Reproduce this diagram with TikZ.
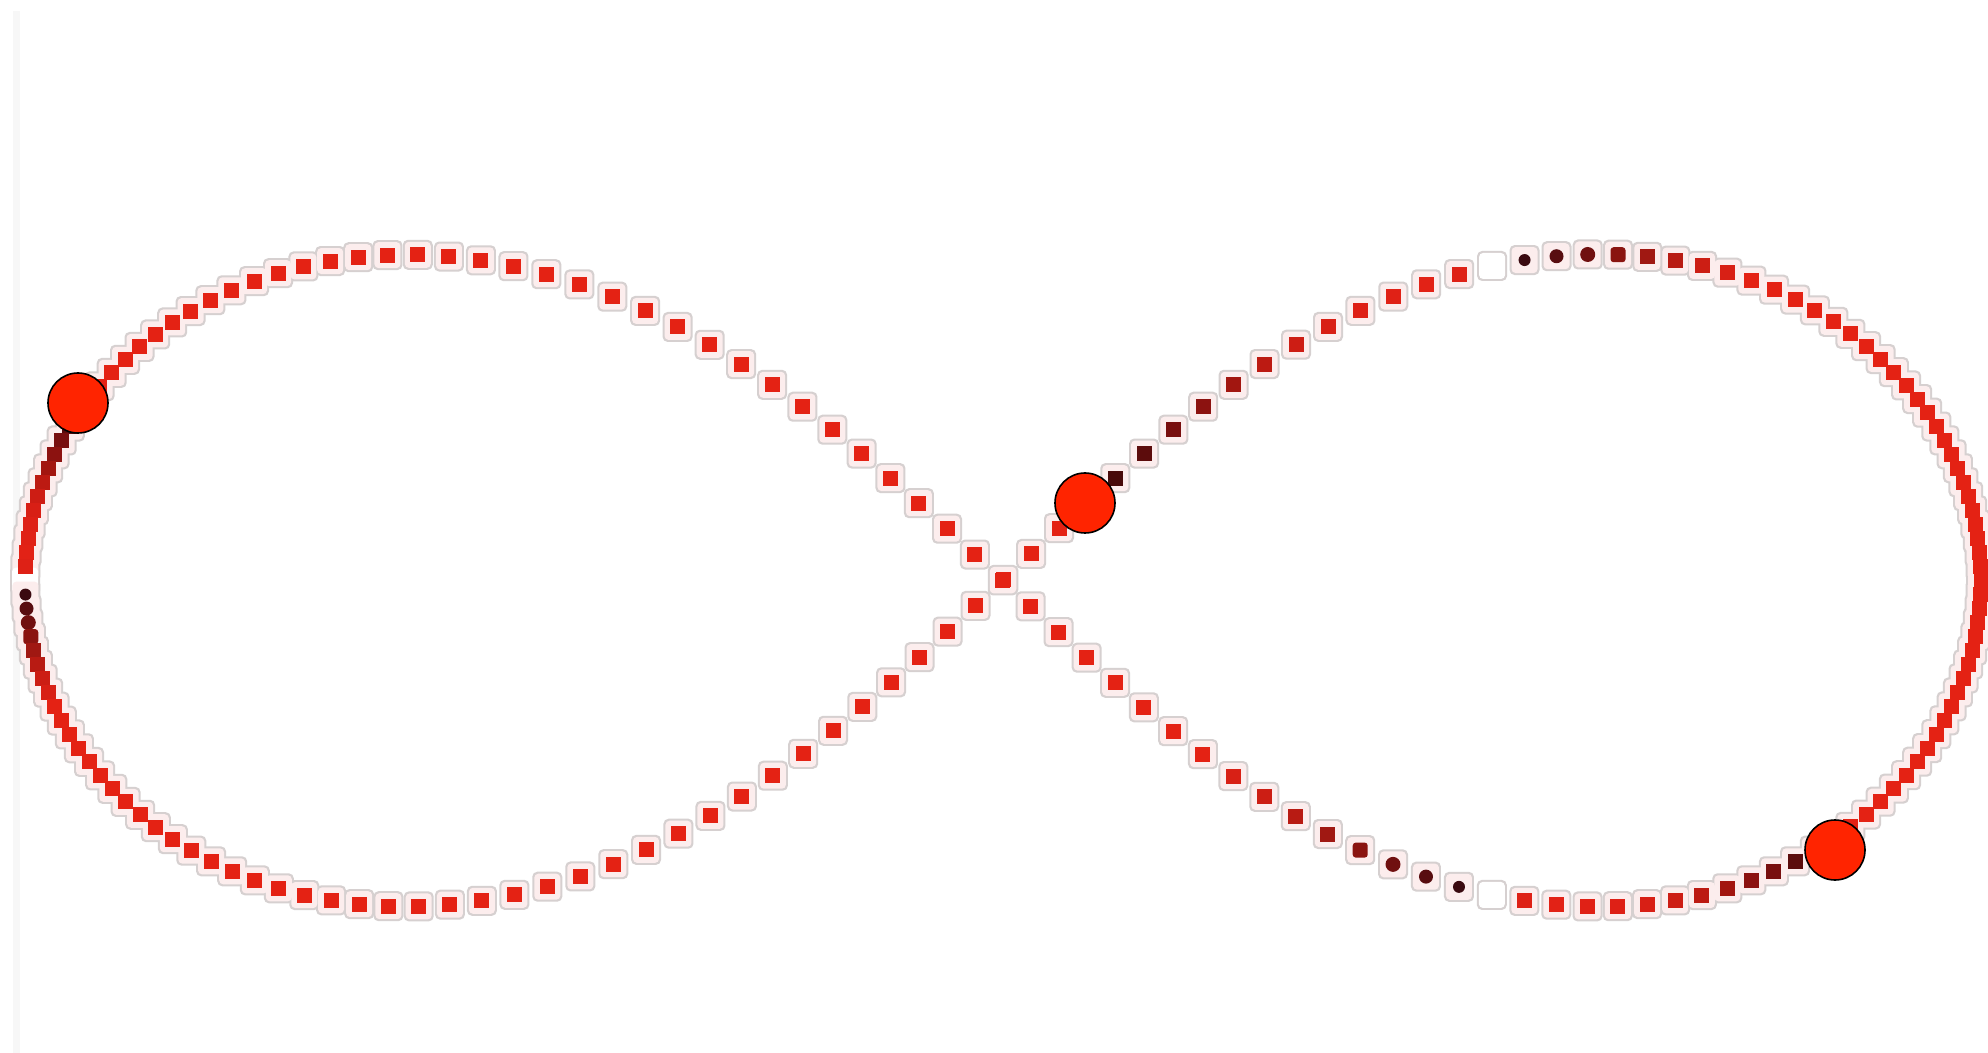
\documentclass[tikz,border=0pt]{standalone}
\usetikzlibrary{calc}
\newcount\festep
\newcount\fedot
\newcount\fek
% figure-eight three-body orbit, positions and velocities scaled by 10
\def\fexa{9.7000436}\def\feya{-2.4308753}
\def\fexb{-9.7000436}\def\feyb{2.4308753}
\def\fexc{0}\def\feyc{0}
\def\feua{4.6620369}\def\feva{4.3236573}
\def\feub{4.6620369}\def\fevb{4.3236573}
\def\feuc{-9.3240737}\def\fevc{-8.6473146}
\def\feh{-0.0109825}
\def\fehh{-0.00549124}
\def\fexmax{0}\def\feymax{0}
\def\feaccel{%
  \pgfmathsetmacro\fedxab{(\fexb)-(\fexa)}%
  \pgfmathsetmacro\fedyab{(\feyb)-(\feya)}%
  \pgfmathsetmacro\fedxac{(\fexc)-(\fexa)}%
  \pgfmathsetmacro\fedyac{(\feyc)-(\feya)}%
  \pgfmathsetmacro\fedxbc{(\fexc)-(\fexb)}%
  \pgfmathsetmacro\fedybc{(\feyc)-(\feyb)}%
  \pgfmathsetmacro\feq{10/sqrt((\fedxab)*(\fedxab)+(\fedyab)*(\fedyab))}%
  \pgfmathsetmacro\fefab{(\feq)*(\feq)*(\feq)}%
  \pgfmathsetmacro\feq{10/sqrt((\fedxac)*(\fedxac)+(\fedyac)*(\fedyac))}%
  \pgfmathsetmacro\fefac{(\feq)*(\feq)*(\feq)}%
  \pgfmathsetmacro\feq{10/sqrt((\fedxbc)*(\fedxbc)+(\fedybc)*(\fedybc))}%
  \pgfmathsetmacro\fefbc{(\feq)*(\feq)*(\feq)}%
  \pgfmathsetmacro\feaxa{(\fedxab)*(\fefab)+(\fedxac)*(\fefac)}%
  \pgfmathsetmacro\feaya{(\fedyab)*(\fefab)+(\fedyac)*(\fefac)}%
  \pgfmathsetmacro\feaxb{(\fedxbc)*(\fefbc)-(\fedxab)*(\fefab)}%
  \pgfmathsetmacro\feayb{(\fedybc)*(\fefbc)-(\fedyab)*(\fefab)}%
  \pgfmathsetmacro\feaxc{0-(\fedxac)*(\fefac)-(\fedxbc)*(\fefbc)}%
  \pgfmathsetmacro\feayc{0-(\fedyac)*(\fefac)-(\fedybc)*(\fefbc)}%
}
\def\fekick{%
  \pgfmathsetmacro\feua{(\feua)+(\feaxa)*(\fehh)}%
  \pgfmathsetmacro\feva{(\feva)+(\feaya)*(\fehh)}%
  \pgfmathsetmacro\feub{(\feub)+(\feaxb)*(\fehh)}%
  \pgfmathsetmacro\fevb{(\fevb)+(\feayb)*(\fehh)}%
  \pgfmathsetmacro\feuc{(\feuc)+(\feaxc)*(\fehh)}%
  \pgfmathsetmacro\fevc{(\fevc)+(\feayc)*(\fehh)}%
}
\def\fedrift{%
  \pgfmathsetmacro\fexa{(\fexa)+(\feua)*(\feh)}%
  \pgfmathsetmacro\feya{(\feya)+(\feva)*(\feh)}%
  \pgfmathsetmacro\fexb{(\fexb)+(\feub)*(\feh)}%
  \pgfmathsetmacro\feyb{(\feyb)+(\fevb)*(\feh)}%
  \pgfmathsetmacro\fexc{(\fexc)+(\feuc)*(\feh)}%
  \pgfmathsetmacro\feyc{(\feyc)+(\fevc)*(\feh)}%
}
\def\festepone{\fekick\fedrift\feaccel\fekick}
\def\ferecord{%
  \expandafter\xdef\csname fePxa\the\fedot\endcsname{\fexa}%
  \expandafter\xdef\csname fePya\the\fedot\endcsname{\feya}%
  \expandafter\xdef\csname fePxb\the\fedot\endcsname{\fexb}%
  \expandafter\xdef\csname fePyb\the\fedot\endcsname{\feyb}%
  \expandafter\xdef\csname fePxc\the\fedot\endcsname{\fexc}%
  \expandafter\xdef\csname fePyc\the\fedot\endcsname{\feyc}%
  \pgfmathsetmacro\fexmax{max(\fexmax,abs(\fexa),abs(\fexb),abs(\fexc))}%
  \pgfmathsetmacro\feymax{max(\feymax,abs(\feya),abs(\feyb),abs(\feyc))}%
  \global\advance\fedot by 1\relax
}
\feaccel
\festep=0
\loop\ifnum\festep<9 \festepone\advance\festep by 1 \repeat
\fedot=0
\ferecord
\fek=0
\loop\ifnum\fek<64 \festepone\festepone\festepone\ferecord\advance\fek by 1 \repeat
% colour and shape of the trail dot with index #1
\def\feSetDot#1{%
  \def\fetype{0}\def\fesz{3.75}%
  \ifcase#1\relax
    \def\fecol{255,255,255}\or
    \def\fecol{72,10,10}\or
    \def\fecol{92,12,12}\or
    \def\fecol{120,15,15}\or
    \def\fecol{140,18,16}\or
    \def\fecol{162,22,16}\or
    \def\fecol{188,26,18}\or
    \def\fecol{205,29,20}\or
    \def\fecol{216,31,21}\or
    \def\fecol{222,32,22}\or
    \def\fecol{224,33,22}\or
    \def\fecol{226,34,22}\or
    \def\fecol{222,33,22}\or
    \def\fetype{3}\def\fecol{255,255,255}\or
    \def\fetype{1}\def\fesz{3}\def\fecol{58,10,16}\or
    \def\fetype{1}\def\fesz{3.5}\def\fecol{88,13,16}\or
    \def\fetype{1}\def\fesz{3.75}\def\fecol{112,16,16}\or
    \def\fetype{2}\def\fecol{138,20,16}\or
    \def\fecol{160,24,18}\or
    \def\fecol{184,27,19}\or
    \def\fecol{204,30,20}\or
    \def\fecol{216,32,21}\or
    \def\fecol{228,34,20}%
  \else
    \def\fecol{228,34,20}%
  \fi}
\definecolor{haloline}{RGB}{214,208,208}
\definecolor{halofill}{RGB}{252,237,237}
\definecolor{bodyred}{RGB}{255,36,0}
\definecolor{panelline}{RGB}{247,247,247}
\tikzset{
  halobase/.style={fill=haloline, rounded corners=2.5pt},
  halotop/.style={fill=halofill, rounded corners=2pt},
  halogap/.style={fill=white, rounded corners=2pt},
  bodydisc/.style={fill=bodyred, draw=black, line width=0.8pt},
}
\begin{document}
\begin{tikzpicture}[x=0.5pt,y=-0.5pt]
\useasboundingbox (0,0) rectangle (1988,1053);
\fill[white] (0,0) rectangle (1988,1053);
\fill[panelline] (13,11) rectangle (20,1053);
\pgfmathsetmacro\fesx{978/\fexmax}
\pgfmathsetmacro\fesy{326/\feymax}
\foreach \pass in {1,2,3}{
  \foreach \k in {1,...,64}{
    \feSetDot{\k}
    \edef\fetmp{\noexpand\definecolor{fedotc}{RGB}{\fecol}}\fetmp
    \foreach \j in {a,b,c}{
      \edef\fecx{\csname fePx\j\k\endcsname}
      \edef\fecy{\csname fePy\j\k\endcsname}
      \pgfmathsetmacro\feX{1003+\fesx*(\fecx)}
      \pgfmathsetmacro\feY{580.5-\fesy*(\fecy)}
      \ifcase\pass\or
        \fill[halobase] (\feX,\feY) +(-7.5pt,-7.5pt) rectangle +(7.5pt,7.5pt);
      \or
        \ifnum\k=13
          \fill[halogap] (\feX,\feY) +(-6.5pt,-6.5pt) rectangle +(6.5pt,6.5pt);
        \else
          \fill[halotop] (\feX,\feY) +(-6.5pt,-6.5pt) rectangle +(6.5pt,6.5pt);
        \fi
      \or
        \ifcase\fetype
          \fill[fedotc] (\feX,\feY) +(-3.75pt,-3.75pt) rectangle +(3.75pt,3.75pt);
        \or
          \fill[fedotc] (\feX,\feY) circle[radius=\fesz pt];
        \or
          \fill[fedotc, rounded corners=1.5pt] (\feX,\feY) +(-3.75pt,-3.75pt) rectangle +(3.75pt,3.75pt);
        \or
        \fi
      \fi
    }
  }
}
% the three bodies
\fill[bodydisc] (78,403) circle[radius=15pt];
\fill[bodydisc] (1085,503) circle[radius=15pt];
\fill[bodydisc] (1835,850) circle[radius=15pt];
\end{tikzpicture}
\end{document}
